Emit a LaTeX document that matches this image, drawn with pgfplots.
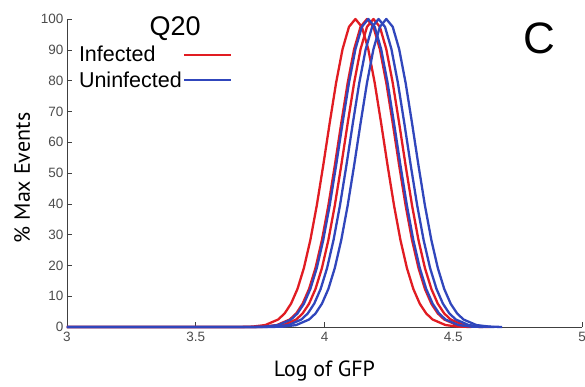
\documentclass[border=0pt]{standalone}
\usepackage{pgfplots}
\pgfplotsset{compat=1.18}
\usepackage{fontspec}
\setmainfont{Liberation Sans}
\newfontfamily\labfont{PT Sans}
\definecolor{cred}{RGB}{225,28,34}
\definecolor{cblue}{RGB}{48,70,188}
\begin{document}
\begin{tikzpicture}
\useasboundingbox (-67pt,-59pt) rectangle (518pt,327pt);
\begin{axis}[
  scale only axis, width=515pt, height=308pt,
  xmin=3, xmax=5, ymin=0, ymax=100,
  clip=false,
  axis x line*=bottom, axis y line*=left,
  axis line style={black!75, line width=0.9pt},
  xtick={3,3.5,4,4.5,5}, ytick={0,10,...,100},
  tick align=inside, major tick length=5pt,
  tick style={black!75, line width=0.6pt},
  /pgf/number format/assume math mode=true,
  tick label style={font=\fontsize{13.5}{14}\selectfont, text=black!70},
  xticklabel style={yshift=-2pt},
  xlabel={Log of GFP}, ylabel={\% Max Events},
  every axis x label/.style={at={(axis description cs:0.5,-0.143)}, anchor=center, font=\labfont\fontsize{22}{24}\selectfont},
  every axis y label/.style={at={(axis description cs:-0.087,0.484)}, anchor=center, rotate=90, font=\labfont\fontsize{22}{24}\selectfont},
  legend plot pos=right,
  legend cell align=left,
  legend image code/.code={\draw[#1, line width=2.4pt] (0pt,0pt) -- (47pt,0pt);},
  legend style={at={(axis description cs:0.021,0.915)}, anchor=north west, draw=none, fill=none, inner sep=0pt,
    font=\fontsize{21.5}{24}\selectfont, row sep=6pt, nodes={inner sep=1pt}},
  every axis plot/.append style={line width=2.3pt, line join=round},
]
\addplot[cred] coordinates {(3,0)(3.67,0)(3.72,0.13)(3.77,0.63)(3.82,2.43)(3.845,4.39)(3.87,7.56)(3.895,12.35)(3.92,19.15)(3.945,28.21)(3.97,39.46)(3.995,52.43)(4.02,66.15)(4.045,79.26)(4.07,90.19)(4.095,97.45)(4.12,100)(4.145,97.45)(4.17,90.19)(4.195,79.26)(4.22,66.15)(4.245,52.43)(4.27,39.46)(4.295,28.21)(4.32,19.15)(4.345,12.35)(4.37,7.56)(4.395,4.39)(4.42,2.43)(4.47,0.63)(4.52,0.13)(4.57,0)};
\addlegendentry{Infected}
\addplot[cred, forget plot] coordinates {(3,0)(3.715,0)(3.765,0.13)(3.815,0.63)(3.865,2.43)(3.89,4.39)(3.915,7.56)(3.94,12.35)(3.965,19.15)(3.99,28.21)(4.015,39.46)(4.04,52.43)(4.065,66.15)(4.09,79.26)(4.115,90.19)(4.14,97.45)(4.165,100)(4.19,97.45)(4.215,90.19)(4.24,79.26)(4.265,66.15)(4.29,52.43)(4.315,39.46)(4.34,28.21)(4.365,19.15)(4.39,12.35)(4.415,7.56)(4.44,4.39)(4.465,2.43)(4.515,0.63)(4.565,0.13)(4.615,0)};
\addplot[cred, forget plot] coordinates {(3,0)(3.74,0)(3.79,0.13)(3.84,0.63)(3.89,2.43)(3.915,4.39)(3.94,7.56)(3.965,12.35)(3.99,19.15)(4.015,28.21)(4.04,39.46)(4.065,52.43)(4.09,66.15)(4.115,79.26)(4.14,90.19)(4.165,97.45)(4.19,100)(4.215,97.45)(4.24,90.19)(4.265,79.26)(4.29,66.15)(4.315,52.43)(4.34,39.46)(4.365,28.21)(4.39,19.15)(4.415,12.35)(4.44,7.56)(4.465,4.39)(4.49,2.43)(4.54,0.63)(4.59,0.13)(4.64,0)};
\addplot[cblue] coordinates {(3,0)(3.72,0)(3.77,0.13)(3.82,0.63)(3.87,2.43)(3.895,4.39)(3.92,7.56)(3.945,12.35)(3.97,19.15)(3.995,28.21)(4.02,39.46)(4.045,52.43)(4.07,66.15)(4.095,79.26)(4.12,90.19)(4.145,97.45)(4.17,100)(4.195,97.45)(4.22,90.19)(4.245,79.26)(4.27,66.15)(4.295,52.43)(4.32,39.46)(4.345,28.21)(4.37,19.15)(4.395,12.35)(4.42,7.56)(4.445,4.39)(4.47,2.43)(4.52,0.63)(4.57,0.13)(4.62,0)};
\addlegendentry{Uninfected}
\addplot[cblue, forget plot] coordinates {(3,0)(3.76,0)(3.81,0.13)(3.86,0.63)(3.91,2.43)(3.935,4.39)(3.96,7.56)(3.985,12.35)(4.01,19.15)(4.035,28.21)(4.06,39.46)(4.085,52.43)(4.11,66.15)(4.135,79.26)(4.16,90.19)(4.185,97.45)(4.21,100)(4.235,97.45)(4.26,90.19)(4.285,79.26)(4.31,66.15)(4.335,52.43)(4.36,39.46)(4.385,28.21)(4.41,19.15)(4.435,12.35)(4.46,7.56)(4.485,4.39)(4.51,2.43)(4.56,0.63)(4.61,0.13)(4.66,0)};
\addplot[cblue, forget plot] coordinates {(3,0)(3.79,0)(3.84,0.13)(3.89,0.63)(3.94,2.43)(3.965,4.39)(3.99,7.56)(4.015,12.35)(4.04,19.15)(4.065,28.21)(4.09,39.46)(4.115,52.43)(4.14,66.15)(4.165,79.26)(4.19,90.19)(4.215,97.45)(4.24,100)(4.265,97.45)(4.29,90.19)(4.315,79.26)(4.34,66.15)(4.365,52.43)(4.39,39.46)(4.415,28.21)(4.44,19.15)(4.465,12.35)(4.49,7.56)(4.515,4.39)(4.54,2.43)(4.59,0.63)(4.64,0.13)(4.69,0)};
\node[font=\fontsize{27}{30}\selectfont, anchor=center] at (axis description cs:0.21,0.968) {Q20};
\node[font=\fontsize{44}{46}\selectfont, anchor=center] at (axis description cs:0.918,0.938) {C};
\end{axis}
\end{tikzpicture}
\end{document}
